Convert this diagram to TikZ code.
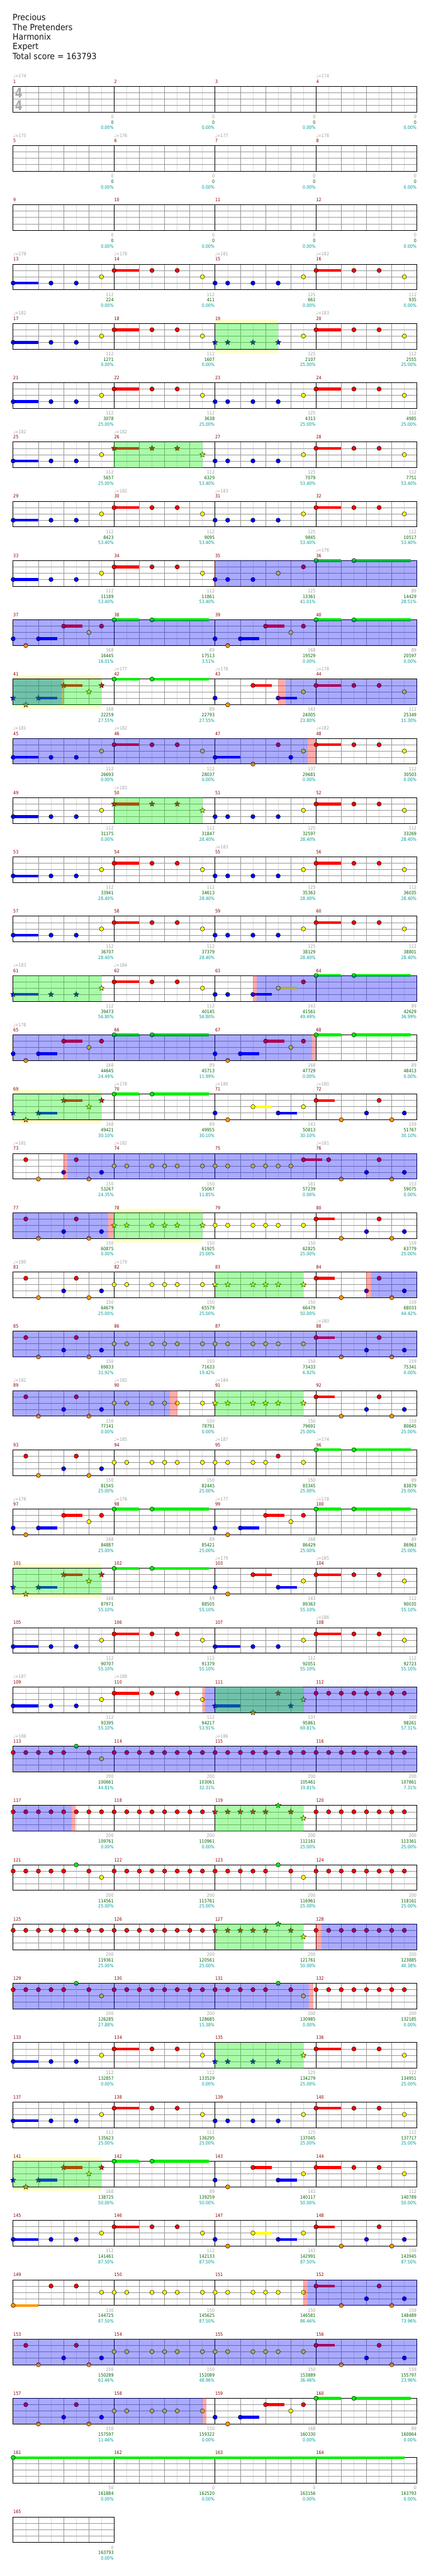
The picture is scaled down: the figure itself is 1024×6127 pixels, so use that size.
\documentclass[tikz,border=0pt]{standalone}
\usepackage{fontspec}
\setmainfont{DejaVu Sans}
\newfontfamily\tfont[FakeStretch=0.92]{DejaVu Sans}
\newfontfamily\sfont[FakeStretch=0.87]{DejaVu Sans}
\newfontfamily\tsfont[FakeStretch=0.8]{DejaVu Sans}
\usetikzlibrary{shapes.geometric}
\definecolor{cR}{RGB}{255,0,0}
\definecolor{cY}{RGB}{255,255,0}
\definecolor{cB}{RGB}{0,0,255}
\definecolor{cG}{RGB}{0,240,0}
\definecolor{cO}{RGB}{255,153,0}
\definecolor{mnum}{RGB}{139,0,0}
\definecolor{gtxt}{RGB}{160,160,160}
\definecolor{stxt}{RGB}{0,100,0}
\definecolor{ptxt}{RGB}{0,155,155}
\definecolor{grid}{RGB}{153,153,153}
\definecolor{hgrid}{RGB}{221,221,221}
\definecolor{pale}{RGB}{255,255,204}
\definecolor{tsgray}{RGB}{170,170,170}
\newcommand\sfnt{\sfont\fontsize{5.5pt}{6pt}\selectfont}
\newcommand\tfnt{\tfont\fontsize{10.2pt}{12pt}\selectfont}
\newcommand\tsfnt{\tsfont\bfseries\fontsize{16pt}{16pt}\selectfont}
\def\lnG{0}\def\lnR{15}\def\lnY{30}\def\lnB{45}\def\lnO{61}
\newcount\nodec
\newcommand\setm[1]{%
 \pgfmathtruncatemacro\mrow{(#1-1)/4}%
 \pgfmathtruncatemacro\mcol{#1-1-4*\mrow}%
 \pgfmathsetmacro\MX{31.3+240*\mcol}%
 \pgfmathsetmacro\MY{205.3+141*\mrow}}
\def\shcirc{c}\def\shstar{s}\let\nshape\shcirc
\newcommand\Star{\let\nshape\shstar}
\newcommand\Circ{\let\nshape\shcirc}
\newcommand\Nt[3]{\setm{#1}%
 \pgfmathsetmacro\nx{\MX+60*#2}\pgfmathsetmacro\ny{\MY+\csname ln#3\endcsname}%
 \ifx\nshape\shstar
  \global\advance\nodec by 1
  \node[name=st\the\nodec,star,star points=5,star point ratio=2.3,minimum size=6.8pt,inner sep=0pt,draw=black,line width=0.3pt,fill=c#3] at (\nx,\ny) {};%
 \else
  \filldraw[fill=c#3,draw=black,line width=0.35pt] (\nx,\ny) circle[radius=2.55pt];%
 \fi}
\newcommand\Sus[4]{\setm{#1}%
 \pgfmathsetmacro\nx{\MX+60*#2}\pgfmathsetmacro\nxx{\MX+60*#3}\pgfmathsetmacro\ny{\MY+\csname ln#4\endcsname}%
 \draw[c#4,line width=3.3pt] (\nx,\ny) -- (\nxx,\ny);}
\newcommand\Ov[4]{\pgfmathsetmacro\ry{205.3+141*#2}\pgfmathsetmacro\ryb{\ry+61}%
 \fill[#1,opacity=0.3333] (#3,\ry) rectangle (#4,\ryb);}
\newcommand\Pale[3]{\pgfmathsetmacro\ry{205.3+141*#1-10}\pgfmathsetmacro\ryb{\ry+81}%
 \fill[pale] (#2,\ry) rectangle (#3,\ryb);}
\newcommand\Staff[2]{%
 \pgfmathsetmacro\ry{205.3+141*#1}%
 \pgfmathsetmacro\ryb{\ry+61}%
 \pgfmathsetmacro\xe{31.3+240*#2}%
 \pgfmathtruncatemacro\nh{8*#2-1}%
 \fill[white] (31.3,\ry) rectangle (\xe,\ryb);
 \foreach \k in {1,3,...,\nh} {\draw[hgrid,line width=0.5pt] (31.3+30*\k,\ry) -- (31.3+30*\k,\ryb);}
 \foreach \l in {15,30,45} {\draw[grid,line width=0.5pt] (31.3,\ry+\l) -- (\xe,\ry+\l);}
 \foreach \k in {2,4,...,\nh} {\pgfmathtruncatemacro\kk{mod(\k,8)}%
   \ifnum\kk=0 \draw[black,line width=0.5pt] (31.3+30*\k,\ry) -- (31.3+30*\k,\ryb);%
   \else \draw[grid,line width=0.5pt] (31.3+30*\k,\ry) -- (31.3+30*\k,\ryb);\fi}
 \draw[black,line width=0.65pt] (31.3,\ry) rectangle (\xe,\ryb);}
% patterns
\newcommand\PA[1]{\Sus{#1}{0}{1}{B}\Nt{#1}{0}{B}\Nt{#1}{1.5}{B}\Nt{#1}{2.5}{B}\Nt{#1}{3.5}{Y}}
\newcommand\PB[1]{\Sus{#1}{0}{1}{R}\Nt{#1}{0}{R}\Nt{#1}{1.5}{R}\Nt{#1}{2.5}{R}\Nt{#1}{3.5}{Y}}
\newcommand\PC[1]{\Nt{#1}{0}{B}\Nt{#1}{0.5}{B}\Nt{#1}{1.5}{B}\Nt{#1}{2.5}{B}\Nt{#1}{3.5}{Y}}
\newcommand\PD[1]{\Nt{#1}{0}{B}\Nt{#1}{0.5}{O}\Sus{#1}{1}{1.75}{B}\Nt{#1}{1}{B}\Sus{#1}{2}{2.75}{R}\Nt{#1}{2}{R}\Nt{#1}{3}{Y}\Nt{#1}{3.5}{R}}
\newcommand\PG[1]{\Sus{#1}{0}{1}{G}\Nt{#1}{0}{G}\Sus{#1}{1.5}{3.75}{G}\Nt{#1}{1.5}{G}}
\newcommand\PE[1]{\Nt{#1}{0}{B}\Nt{#1}{0.5}{O}\Sus{#1}{1.5}{2.25}{R}\Nt{#1}{1.5}{R}\Sus{#1}{2.5}{3.25}{B}\Nt{#1}{2.5}{B}\Nt{#1}{3.5}{Y}}
\newcommand\PF[1]{\Sus{#1}{0}{0.75}{R}\Nt{#1}{0}{R}\Nt{#1}{1}{O}\Nt{#1}{2}{B}\Nt{#1}{2.5}{R}\Nt{#1}{3}{O}\Nt{#1}{3.5}{B}}
\newcommand\PH[1]{\Nt{#1}{0.5}{R}\Nt{#1}{1}{O}\Nt{#1}{2}{B}\Nt{#1}{2.5}{R}\Nt{#1}{3}{O}\Nt{#1}{3.5}{B}}
\newcommand\PY[1]{\Nt{#1}{0}{Y}\Nt{#1}{0.5}{Y}\Nt{#1}{1.5}{Y}\Nt{#1}{2}{Y}\Nt{#1}{2.5}{Y}\Nt{#1}{3.5}{Y}}
\newcommand\PK[1]{\Sus{#1}{0}{1}{B}\Nt{#1}{0}{B}\Nt{#1}{1.5}{O}\Nt{#1}{2.5}{R}\Nt{#1}{3}{B}\Nt{#1}{3.5}{Y}}
\newcommand\PRR[1]{\foreach \q in {0,0.5,...,3.5}{\Nt{#1}{\q}{R}}}
\newcommand\PM[1]{\foreach \q in {0,0.5,...,2}{\Nt{#1}{\q}{R}}\Nt{#1}{2.5}{G}\Nt{#1}{3}{R}\Nt{#1}{3.5}{Y}}
\newcommand\PQ[1]{\Nt{#1}{0}{B}\Nt{#1}{0.5}{O}\Sus{#1}{1.5}{2.25}{Y}\Nt{#1}{1.5}{Y}\Sus{#1}{2.5}{3.25}{B}\Nt{#1}{2.5}{B}\Nt{#1}{3.5}{Y}}
% texts
\newcommand\ML[1]{\setm{#1}\node[name=m#1,anchor=base west,inner sep=0pt,text=mnum,font=\sfnt] at (\MX,\MY-7.6) {#1};}
\newcommand\Tp[2]{\setm{#1}\node[name=t#1,anchor=base west,inner sep=0pt,text=gtxt,font=\sfnt] at (\MX,\MY-20) {♩=#2};}
\newcommand\Sc[4]{\setm{#1}\pgfmathsetmacro\xe{\MX+239.3}%
 \node[name=g#1,anchor=base east,inner sep=0pt,text=gtxt,font=\sfnt] at (\xe,\MY+76.4) {#2};
 \node[name=c#1,anchor=base east,inner sep=0pt,text=stxt,font=\sfnt] at (\xe,\MY+89.7) {#3};
 \node[name=p#1,anchor=base east,inner sep=0pt,text=ptxt,font=\sfnt] at (\xe,\MY+102.7) {#4\%};}
\begin{document}
\begin{tikzpicture}[x=0.5pt,y=-0.5pt]
\useasboundingbox (0,0) rectangle (1024,6127);
\fill[white] (0,0) rectangle (1024,6127);
% header
\node[name=h1,anchor=base west,inner sep=0pt,font=\tfnt,text=black!92] at (29.8,49) {Precious};
\node[name=h2,anchor=base west,inner sep=0pt,font=\tfnt,text=black!92] at (29.8,72) {The Pretenders};
\node[name=h3,anchor=base west,inner sep=0pt,font=\tfnt,text=black!92] at (29.8,95) {Harmonix};
\node[name=h4,anchor=base west,inner sep=0pt,font=\tfnt,text=black!92] at (29.8,118) {Expert};
\node[name=h5,anchor=base west,inner sep=0pt,font=\tfnt,text=black!92] at (29.8,141) {Total score = 163793};
% pale regions
\Pale{4}{511.3}{661.3}
\Pale{10}{31.3}{241.3}
\Pale{17}{31.3}{241.3}
\Pale{19}{271.3}{481.3}
\Pale{25}{31.3}{241.3}
\Pale{35}{31.3}{241.3}
% staffs
\foreach \r in {0,...,40} {\Staff{\r}{4}}
\Staff{41}{1}
\node[name=ts1,font=\tsfnt,text=tsgray,inner sep=0pt] at (44.5,221) {4};
\node[name=ts2,font=\tsfnt,text=tsgray,inner sep=0pt] at (44.5,250.5) {4};
% notes
\PA{13}\PB{14}\PC{15}\PB{16}
\PA{17}\PB{18}\Star\Nt{19}{0}{B}\Nt{19}{0.5}{B}\Nt{19}{1.5}{B}\Nt{19}{2.5}{B}\Circ\Nt{19}{3.5}{Y}\PB{20}
\PA{21}\PB{22}\PC{23}\PB{24}
\PA{25}\Star\PB{26}\Circ\PC{27}\PB{28}
\PA{29}\PB{30}\PC{31}\PB{32}
\PA{33}\PB{34}\Nt{35}{0}{B}\Nt{35}{0.5}{B}\Nt{35}{1.5}{B}\Nt{35}{2.5}{Y}\Nt{35}{3.5}{R}\PG{36}
\PD{37}\PG{38}\PD{39}\PG{40}
\Star\PD{41}\Circ\PG{42}\PE{43}\PB{44}
\PA{45}\PB{46}\PK{47}\PB{48}
\PA{49}\Star\PB{50}\Circ\PC{51}\PB{52}
\PA{53}\PB{54}\PC{55}\PB{56}
\PA{57}\PB{58}\PC{59}\PB{60}
\Star\PA{61}\Circ\PB{62}
\Nt{63}{0}{B}\Nt{63}{0.5}{B}\Sus{63}{1.5}{2.25}{B}\Nt{63}{1.5}{B}\Sus{63}{2.5}{3.25}{Y}\Nt{63}{2.5}{Y}\Nt{63}{3.5}{R}\PG{64}
\PD{65}\PG{66}\PD{67}\PG{68}
\Star\PD{69}\Circ\PG{70}
\PQ{71}\PF{72}
\PH{73}\PY{74}
\Nt{75}{0}{Y}\Nt{75}{0.5}{Y}\Nt{75}{1.5}{Y}\Nt{75}{2}{Y}\Nt{75}{2.5}{Y}\Nt{75}{3}{Y}\Sus{75}{3.5}{4.24}{R}\Nt{75}{3.5}{R}\PH{76}
\PH{77}\Star\PY{78}\Circ\PY{79}\PF{80}
\PH{81}\PY{82}\Star\PY{83}\Circ\PF{84}
\PH{85}\PY{86}\PY{87}\PF{88}
\PH{89}\PY{90}\Star\PY{91}\Circ\PF{92}
\PH{93}\PY{94}\Nt{95}{0}{Y}\Nt{95}{0.5}{Y}\Nt{95}{1.5}{Y}\Nt{95}{2}{Y}\Nt{95}{2.5}{R}\Nt{95}{3.5}{Y}\PG{96}
\PD{97}\PG{98}\PD{99}\PG{100}
\Star\PD{101}\Circ\PG{102}\PE{103}\PB{104}
\PA{105}\PB{106}\PA{107}\PB{108}
\PA{109}\PB{110}\Star\PK{111}\Circ\PRR{112}
\PM{113}\PRR{114}\PRR{115}\PRR{116}
\PRR{117}\PRR{118}\Star\PM{119}\Circ\PRR{120}
\PM{121}\PRR{122}\PM{123}\PRR{124}
\PRR{125}\PRR{126}\Star\PM{127}\Circ\PRR{128}
\PM{129}\PRR{130}\PM{131}\PRR{132}
\PA{133}\PB{134}\Star\PC{135}\Circ\PB{136}
\PA{137}\PB{138}\PC{139}\PB{140}
\Star\PD{141}\Circ\PG{142}\PE{143}\PB{144}
\PA{145}\PB{146}\PQ{147}\PF{148}
\Sus{149}{0}{1}{O}\Nt{149}{0}{O}\Nt{149}{1.5}{R}\Nt{149}{2.5}{R}\Nt{149}{3.5}{Y}\PY{150}\PY{151}\PF{152}
\PH{153}\PY{154}\PY{155}\PF{156}
\PH{157}\PY{158}\PD{159}\PG{160}
\Sus{161}{0}{15.5}{G}\Nt{161}{0}{G}
% overlays
\Ov{cR}{8}{509.5}{511.3}\Ov{cB}{8}{511.3}{991.3}
\Ov{cB}{9}{31.3}{991.3}
\Ov{cB}{10}{31.3}{147}\Ov{cR}{10}{147}{151.5}\Ov{cR}{10}{661}{679.3}\Ov{cB}{10}{679.3}{991.3}
\Ov{cB}{11}{31.3}{732.2}\Ov{cR}{11}{732.2}{751.3}
\Ov{cR}{15}{601.6}{610}\Ov{cB}{15}{610}{991.3}
\Ov{cB}{16}{31.3}{742}\Ov{cR}{16}{742}{751.3}
\Ov{cR}{18}{151.5}{160}\Ov{cB}{18}{160}{991.3}
\Ov{cB}{19}{31.3}{258}\Ov{cR}{19}{258}{271.3}
\Ov{cR}{20}{871.3}{883}\Ov{cB}{20}{883}{991.3}
\Ov{cB}{21}{31.3}{991.3}
\Ov{cB}{22}{31.3}{404.3}\Ov{cR}{22}{404.3}{421.3}
\Ov{cR}{27}{481.4}{488}\Ov{cB}{27}{488}{991.3}
\Ov{cB}{28}{31.3}{991.3}
\Ov{cB}{29}{31.3}{171}\Ov{cR}{29}{171}{180}
\Ov{cR}{31}{751.3}{765}\Ov{cB}{31}{765}{991.3}
\Ov{cB}{32}{31.3}{735}\Ov{cR}{32}{735}{745}
\Ov{cR}{37}{721.3}{731}\Ov{cB}{37}{731}{991.3}
\Ov{cB}{38}{31.3}{991.3}
\Ov{cB}{39}{31.3}{481.3}\Ov{cR}{39}{481.3}{491}
\Ov{cG}{4}{511.3}{661.3}
\Ov{cG}{6}{271.3}{481.3}
\Ov{cG}{10}{31.3}{241.3}
\Ov{cG}{12}{271.3}{481.3}
\Ov{cG}{15}{31.3}{241.3}
\Ov{cG}{17}{31.3}{241.3}
\Ov{cG}{19}{271.3}{481.3}
\Ov{cG}{20}{511.3}{721.3}
\Ov{cG}{22}{511.3}{721.3}
\Ov{cG}{25}{31.3}{241.3}
\Ov{cG}{27}{511.3}{721.3}
\Ov{cG}{29}{511.3}{721.3}
\Ov{cG}{31}{511.3}{721.3}
\Ov{cG}{33}{511.3}{721.3}
\Ov{cG}{35}{31.3}{241.3}
% texts
\foreach \m in {1,...,165} {\ML{\m}}
\foreach \m/\t in {1/174,4/174,5/175,6/176,7/177,8/178,13/179,14/179,15/181,16/182,17/182,20/183,25/182,26/182,30/182,31/183,36/176,42/177,43/178,44/178,45/181,46/182,48/182,50/183,55/183,61/183,62/184,65/178,70/178,71/180,72/180,73/181,74/182,76/181,81/180,82/179,88/180,89/182,90/182,91/184,94/185,95/187,96/174,97/176,98/176,99/177,100/178,103/179,104/185,108/186,109/187,110/188,113/186,115/186} {\Tp{\m}{\t}}
\foreach \m in {1,...,12} {\Sc{\m}{0}{0}{0.00}}
\foreach \m/\g/\c/\p in {13/112/224/0.00,14/112/411/0.00,15/125/661/0.00,16/112/935/0.00,
17/112/1271/0.00,18/112/1607/0.00,19/125/2107/25.00,20/112/2555/25.00,
21/112/3078/25.00,22/112/3638/25.00,23/125/4313/25.00,24/112/4985/25.00,
25/112/5657/25.00,26/112/6329/53.40,27/125/7079/53.40,28/112/7751/53.40,
29/112/8423/53.40,30/112/9095/53.40,31/125/9845/53.40,32/112/10517/53.40,
33/112/11189/53.40,34/112/11861/53.40,35/125/13361/41.01,36/89/14429/28.51,
37/168/16445/16.01,38/89/17513/3.51,39/168/19529/0.00,40/89/20597/0.00,
41/168/22259/27.55,42/89/22793/27.55,43/143/24005/23.80,44/112/25349/11.30,
45/112/26693/0.00,46/112/28037/0.00,47/137/29681/0.00,48/112/30503/0.00,
49/112/31175/0.00,50/112/31847/28.40,51/125/32597/28.40,52/112/33269/28.40,
53/112/33941/28.40,54/112/34613/28.40,55/125/35363/28.40,56/112/36035/28.40,
57/112/36707/28.40,58/112/37379/28.40,59/125/38129/28.40,60/112/38801/28.40,
61/112/39473/56.80,62/112/40145/56.80,63/143/41561/49.49,64/89/42629/36.99,
65/168/44645/24.49,66/89/45713/11.99,67/168/47729/0.00,68/89/48413/0.00,
69/168/49421/30.10,70/89/49955/30.10,71/143/50813/30.10,72/159/51767/30.10,
73/150/53267/24.35,74/150/55067/11.85,75/181/57239/0.00,76/153/59075/0.00,
77/150/60875/0.00,78/150/61925/25.00,79/150/62825/25.00,80/159/63779/25.00,
81/150/64679/25.00,82/150/65579/25.00,83/150/66479/50.00,84/159/68033/44.42,
85/150/69833/31.92,86/150/71633/19.42,87/150/73433/6.92,88/159/75341/0.00,
89/150/77141/0.00,90/150/78791/0.00,91/150/79691/25.00,92/159/80645/25.00,
93/150/81545/25.00,94/150/82445/25.00,95/150/83345/25.00,96/89/83879/25.00,
97/168/84887/25.00,98/89/85421/25.00,99/168/86429/25.00,100/89/86963/25.00,
101/168/87971/55.10,102/89/88505/55.10,103/143/89363/55.10,104/112/90035/55.10,
105/112/90707/55.10,106/112/91379/55.10,107/112/92051/55.10,108/112/92723/55.10,
109/112/93395/55.10,110/112/94217/53.91,111/137/95861/69.81,112/200/98261/57.31,
113/200/100661/44.81,114/200/103061/32.31,115/200/105461/19.81,116/200/107861/7.31,
117/200/109761/0.00,118/200/110961/0.00,119/200/112161/25.00,120/200/113361/25.00,
121/200/114561/25.00,122/200/115761/25.00,123/200/116961/25.00,124/200/118161/25.00,
125/200/119361/25.00,126/200/120561/25.00,127/200/121761/50.00,128/200/123885/40.38,
129/200/126285/27.88,130/200/128685/15.38,131/200/130985/0.00,132/200/132185/0.00,
133/112/132857/0.00,134/112/133529/0.00,135/125/134279/25.00,136/112/134951/25.00,
137/112/135623/25.00,138/112/136295/25.00,139/125/137045/25.00,140/112/137717/25.00,
141/168/138725/50.00,142/89/139259/50.00,143/143/140117/50.00,144/112/140789/50.00,
145/112/141461/87.50,146/112/142133/87.50,147/143/142991/87.50,148/159/143945/87.50,
149/130/144725/87.50,150/150/145625/87.50,151/150/146581/86.46,152/159/148489/73.96,
153/150/150289/61.46,154/150/152089/48.96,155/150/153889/36.46,156/159/155797/23.96,
157/150/157597/11.46,158/150/159322/0.00,159/168/160330/0.00,160/89/160864/0.00,
161/50/161884/0.00,162/0/162520/0.00,163/0/163156/0.00,164/0/163793/0.00,
165/0/163793/0.00} {\Sc{\m}{\g}{\c}{\p}}
\end{tikzpicture}
\end{document}
